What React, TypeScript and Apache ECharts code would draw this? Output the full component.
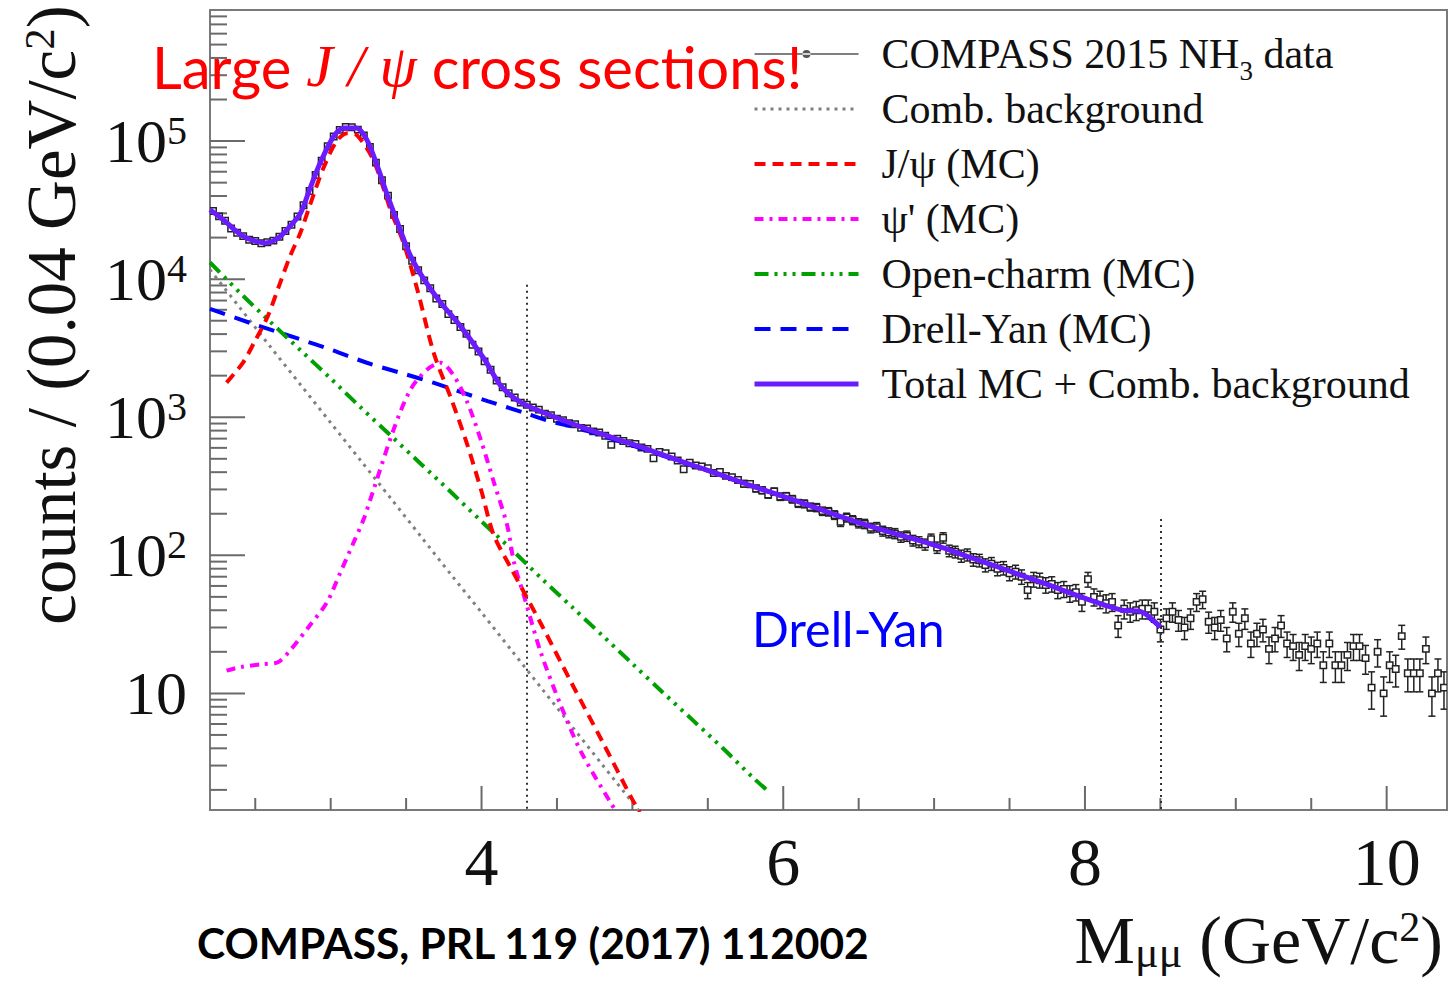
import { useEffect, useRef } from 'react';
import * as echarts from 'echarts';

const SERIF = '"Liberation Serif", "Times New Roman", serif';
const SANS = 'Lato, "Open Sans", sans-serif';

// Axis ranges: dimuon mass in GeV/c^2, counts per 0.04 GeV/c^2 (log)
const X_MIN = 2.2;
const X_MAX = 10.4;
const Y_MIN = 1.43;
const Y_MAX = 8.9e5;

// Tick positions
const X_TICK_LABELS = [4, 6, 8, 10];
const X_MINOR_TICKS = [2.5, 3, 3.5, 4.5, 5, 5.5, 6.5, 7, 7.5, 8.5, 9, 9.5];
const Y_TICK_EXPONENTS = [1, 2, 3, 4, 5];
const Y_MINOR_MANTISSAS = [2, 3, 4, 5, 6, 7, 8, 9];

// Measured spectrum: 0.04 GeV/c^2 bins, first bin starting at 2.20
const BIN_WIDTH = 0.04;
const FIRST_BIN_EDGE = 2.2;
const dataCounts = [
  // 2.22 - 4.30
  31200, 28500, 26500, 23300, 21700, 20500, 19300, 18900, 18200, 18500,
  19000, 20300, 22300, 24800, 28400, 34300, 43500, 56800, 72000, 91800,
  108000, 120500, 126800, 126000, 121000, 110000, 90500, 69800, 52000, 40300,
  29200, 23100, 17300, 13600, 11600, 9800, 8600, 7250, 6600, 5580,
  5060, 4500, 4020, 3350, 2990, 2540, 2210, 1840, 1650, 1490,
  1390, 1275, 1230,
  // 4.34 - 8.38
  1175, 1135, 1060, 1035, 975, 952, 905, 890, 838, 830,
  790, 775, 735, 632, 700, 672, 648, 640, 603, 590,
  505, 560, 548, 520, 486, 420, 468, 447, 440, 428,
  395, 402, 376, 368, 352, 330, 328, 305, 296, 276,
  290, 266, 268, 255, 238, 236, 224, 222, 209, 207,
  196, 175, 188, 180, 171, 169, 158, 160, 150, 146,
  144, 136, 138, 128, 125, 120, 131, 114, 134, 108,
  106, 99, 101, 93, 92, 85, 87, 80, 81, 74,
  76, 70, 56, 67, 66, 61, 62, 56, 57, 53,
  54, 46, 67, 50, 48, 45, 46, 31, 41, 39,
  40, 41,
  // 8.42 - 10.38
  41, 39, 29, 35, 39, 34, 30, 35, 46, 48,
  33, 30, 34, 25, 39, 27, 35, 23, 27, 29,
  21, 25, 31, 23, 22, 19, 22, 21, 23, 16,
  23, 16, 16, 19, 22, 22, 18, 11, 20, 10,
  16, 15, 26, 14, 14, 14, 21, 10, 14, 11,
];

// Monte Carlo components and fitted background: [mass, counts]
const combBackground: [number, number][] = [
  [2.2, 11700], [2.4, 6170], [2.6, 3240], [2.8, 1720], [3.0, 912], [3.2, 484],
  [3.4, 257], [3.6, 136], [3.8, 72], [4.0, 38.5], [4.2, 20.4], [4.4, 10.8],
  [4.6, 5.75], [4.8, 3.05], [5.0, 1.62], [5.1, 1.17],
];
const jpsiMC: [number, number][] = [
  [2.31, 1780], [2.42, 2500], [2.5, 3600], [2.58, 5300], [2.665, 9400], [2.73, 14600],
  [2.8, 21800], [2.865, 35000], [2.95, 63000], [3.04, 100000], [3.11, 114000],
  [3.175, 110000], [3.285, 72000], [3.4, 31000], [3.485, 18000], [3.573, 8500],
  [3.684, 2900], [3.8, 1350], [3.9, 660], [4.0, 290], [4.08, 141], [4.2, 79],
  [4.4, 31], [4.6, 11.7], [4.8, 4.5], [5.0, 1.7], [5.05, 1.38],
];
const psiPrimeMC: [number, number][] = [
  [2.31, 14.6], [2.4, 15.5], [2.55, 16.3], [2.65, 16.8], [2.73, 20.4], [2.86, 30.9],
  [2.975, 45.6], [3.064, 75], [3.152, 124], [3.219, 183], [3.285, 301], [3.418, 818],
  [3.529, 1585], [3.64, 2220], [3.728, 2480], [3.817, 1990], [3.906, 1280],
  [3.994, 692], [4.082, 337], [4.171, 163], [4.215, 89], [4.281, 51], [4.392, 19.9],
  [4.525, 8.2], [4.658, 3.8], [4.858, 1.6], [4.92, 1.26],
];
const openCharmMC: [number, number][] = [
  [2.2, 13200], [2.4, 7940], [2.6, 4900], [2.8, 3055], [3.0, 1905], [3.2, 1175],
  [3.4, 733], [3.6, 457], [3.8, 285], [4.0, 176], [4.2, 110], [4.4, 67.6],
  [4.6, 42.2], [4.8, 26.3], [5.0, 16.4], [5.2, 10.2], [5.4, 6.4], [5.6, 4.0],
  [5.8, 2.45], [5.89, 2.0],
];
const drellYanMC: [number, number][] = [
  [2.2, 6100], [2.5, 4680], [2.8, 3660], [3.0, 3090], [3.24, 2480], [3.5, 2040],
  [3.68, 1780], [4.04, 1310], [4.28, 1080], [4.44, 944], [4.66, 822], [4.9, 676],
  [5.1, 575], [5.3, 484], [5.54, 395], [5.76, 326], [5.99, 268], [6.2, 223],
  [6.45, 179], [6.7, 148], [7.03, 116], [7.2, 100], [7.4, 84], [7.74, 62],
  [8.02, 48], [8.25, 40], [8.36, 39], [8.5, 30],
];
const totalMC: [number, number][] = [
  [2.2, 31800], [2.3, 26300], [2.36, 22900], [2.44, 19900], [2.52, 18600], [2.57, 18300],
  [2.62, 19000], [2.67, 20600], [2.73, 24100], [2.8, 30100], [2.86, 44500], [2.93, 69300],
  [3.02, 107900], [3.09, 124200], [3.17, 124200], [3.24, 102100], [3.31, 65500],
  [3.37, 42100], [3.46, 22900], [3.53, 14700], [3.62, 9930], [3.73, 6750], [3.86, 4570],
  [4.02, 2620], [4.13, 1680], [4.26, 1280], [4.46, 1030], [4.66, 851], [4.9, 692],
  [5.1, 586], [5.3, 490], [5.54, 398], [5.76, 327], [5.99, 269], [6.2, 224], [6.45, 180],
  [6.7, 148], [7.03, 116], [7.2, 100], [7.4, 84], [7.74, 62], [8.02, 48], [8.25, 40],
  [8.36, 39.4], [8.5, 30.2],
];

// Mass-range boundaries (dotted verticals): mass and upper end in counts
const cutMasses = [4.3, 8.5];
const cutTops = [9100, 183];

const DATA_NAME = 'COMPASS 2015 NH3 data';
const BKG_NAME = 'Comb. background';
const JPSI_NAME = 'J/ψ (MC)';
const PSIP_NAME = "ψ' (MC)";
const OC_NAME = 'Open-charm (MC)';
const DY_NAME = 'Drell-Yan (MC)';
const TOTAL_NAME = 'Total MC + Comb. background';

function curve(name: string, data: [number, number][], color: string, width: number, dash: any, z: number) {
  return {
    name,
    type: 'line',
    data,
    z,
    symbol: 'none',
    showSymbol: false,
    smooth: 0.3,
    clip: true,
    silent: true,
    lineStyle: { color, width, type: dash, cap: 'butt' },
    itemStyle: { color },
  };
}

export default function App() {
  const ref = useRef<HTMLDivElement>(null);

  useEffect(() => {
    if (!ref.current) return;
    const chart = echarts.init(ref.current, undefined, { renderer: 'svg' });

    // tick marks drawn inside the frame: [axis (0 = x, 1 = y), value, major?]
    const tickItems: number[][] = [];
    X_TICK_LABELS.forEach((v) => tickItems.push([0, v, 1]));
    X_MINOR_TICKS.forEach((v) => tickItems.push([0, v, 0]));
    Y_TICK_EXPONENTS.forEach((e) => tickItems.push([1, Math.pow(10, e), 1]));
    for (let e = 0; e <= 5; e++) {
      Y_MINOR_MANTISSAS.forEach((m) => {
        const v = m * Math.pow(10, e);
        if (v >= Y_MIN && v <= Y_MAX) tickItems.push([1, v, 0]);
      });
    }

    const dataPoints = dataCounts.map((n, i) => [FIRST_BIN_EDGE + (i + 0.5) * BIN_WIDTH, n]);

    const option: any = {
      animation: false,
      backgroundColor: '#ffffff',
      textStyle: { fontFamily: SERIF },
      grid: {
        left: 210, right: 4, top: 10, bottom: 171,
        show: true, borderColor: '#7a7a7a', borderWidth: 2, backgroundColor: 'transparent',
      },
      xAxis: {
        type: 'value',
        min: X_MIN,
        max: X_MAX,
        axisLine: { show: true, lineStyle: { color: '#7a7a7a', width: 2 } },
        axisTick: { show: false },
        splitLine: { show: false },
        axisLabel: {
          margin: 18,
          fontFamily: SERIF,
          fontSize: 68,
          color: '#111',
          showMinLabel: false,
          showMaxLabel: false,
          formatter: (v: number) => (X_TICK_LABELS.indexOf(v) >= 0 ? String(v) : ''),
        },
      },
      yAxis: {
        type: 'log',
        logBase: 10,
        min: Y_MIN,
        max: Y_MAX,
        axisLine: { show: true, lineStyle: { color: '#7a7a7a', width: 2 } },
        axisTick: { show: false },
        splitLine: { show: false },
        minorTick: { show: false },
        axisLabel: {
          margin: 23,
          formatter: (v: number) => {
            const e = Math.log10(v);
            const n = Math.round(e);
            if (Math.abs(e - n) > 1e-6 || Y_TICK_EXPONENTS.indexOf(n) < 0) return '';
            return n === 1 ? '{b|10}' : `{b|10}{s|${n}}`;
          },
          rich: {
            b: { fontFamily: SERIF, fontSize: 62, color: '#111', lineHeight: 62 },
            s: { fontFamily: SERIF, fontSize: 40, color: '#111', lineHeight: 40, verticalAlign: 'top' },
          },
        },
      },
      legend: {
        orient: 'vertical',
        left: 752,
        top: 33,
        padding: 0,
        itemGap: 4,
        itemWidth: 104,
        itemHeight: 20,
        selectedMode: false,
        itemStyle: { color: 'rgba(0,0,0,0)', borderColor: 'rgba(0,0,0,0)', borderWidth: 0 },
        lineStyle: { width: 'inherit' },
        textStyle: {
          fontFamily: SERIF,
          fontSize: 42,
          color: '#111',
          padding: [0, 0, 0, 18],
          rich: {
            t: { fontFamily: SERIF, fontSize: 42, color: '#111', lineHeight: 44 },
            sub: {
              fontFamily: SERIF, fontSize: 27, color: '#111',
              verticalAlign: 'bottom', padding: [0, 0, -8, 0],
            },
          },
        },
        // every row carries a subscript slot so all rows share one height
        formatter: (name: string) =>
          name === DATA_NAME ? '{t|COMPASS 2015 NH}{sub|3}{t| data}' : `{t|${name}}{sub| }`,
        data: [
          {
            name: DATA_NAME,
            icon: 'path://M0,0 M104,20 M0,9.2 L104,9.2 L104,10.8 L0,10.8 Z M48,10 A4,4 0 1 0 56,10 A4,4 0 1 0 48,10 Z',
            itemStyle: { color: '#555', borderWidth: 0 },
          },
          BKG_NAME, JPSI_NAME, PSIP_NAME, OC_NAME, DY_NAME, TOTAL_NAME,
        ],
      },
      series: [
        {
          name: 'ticks',
          type: 'custom',
          silent: true,
          z: 1,
          data: tickItems,
          renderItem: (_p: any, api: any) => {
            const axis = api.value(0);
            const v = api.value(1);
            const major = api.value(2) === 1;
            const style = { stroke: '#6a6a6a', lineWidth: 2 };
            if (axis === 0) {
              const p = api.coord([v, Y_MIN]);
              const len = major ? 24 : 12;
              return { type: 'line', shape: { x1: p[0], y1: p[1], x2: p[0], y2: p[1] - len }, style };
            }
            const p = api.coord([X_MIN, v]);
            const len = major ? 35 : 17;
            return { type: 'line', shape: { x1: p[0], y1: p[1], x2: p[0] + len, y2: p[1] }, style };
          },
        },
        {
          name: 'cuts',
          type: 'line',
          data: [],
          silent: true,
          markLine: {
            silent: true,
            symbol: ['none', 'none'],
            label: { show: false },
            lineStyle: { color: '#333', width: 2, type: [2, 4] },
            data: cutMasses.map((m, i) => [{ coord: [m, cutTops[i]] }, { coord: [m, Y_MIN] }]),
          },
        },
        {
          name: DATA_NAME,
          type: 'custom',
          silent: true,
          clip: true,
          z: 4,
          itemStyle: { color: '#555' },
          encode: { x: 0, y: 1 },
          data: dataPoints,
          renderItem: (_p: any, api: any) => {
            const m = api.value(0);
            const n = api.value(1);
            const err = Math.sqrt(n);
            const c = api.coord([m, n]);
            const top = api.coord([m, n + err])[1];
            const bot = api.coord([m, Math.max(n - err, Y_MIN)])[1];
            const h = 3.2;
            const cap = 3.5;
            const st = { stroke: '#222', lineWidth: 1.5 };
            const children: any[] = [];
            if (top < c[1] - h) {
              children.push({ type: 'line', shape: { x1: c[0], y1: c[1] - h, x2: c[0], y2: top }, style: st });
              children.push({ type: 'line', shape: { x1: c[0] - cap, y1: top, x2: c[0] + cap, y2: top }, style: st });
            }
            if (bot > c[1] + h) {
              children.push({ type: 'line', shape: { x1: c[0], y1: c[1] + h, x2: c[0], y2: bot }, style: st });
              children.push({ type: 'line', shape: { x1: c[0] - cap, y1: bot, x2: c[0] + cap, y2: bot }, style: st });
            }
            children.push({
              type: 'rect',
              shape: { x: c[0] - h, y: c[1] - h, width: 2 * h, height: 2 * h },
              style: { stroke: '#222', lineWidth: 1.5, fill: '#fff' },
            });
            return { type: 'group', children };
          },
        },
        curve(BKG_NAME, combBackground, '#808080', 3, [3, 5], 5),
        curve(DY_NAME, drellYanMC, '#0000ff', 4, [16, 10], 6),
        curve(OC_NAME, openCharmMC, '#00a000', 4, [14, 6, 3, 6, 3, 6, 3, 6], 6),
        curve(PSIP_NAME, psiPrimeMC, '#ff00ff', 4, [9, 6, 3, 6], 7),
        curve(JPSI_NAME, jpsiMC, '#ff0000', 4, [11, 7], 8),
        curve(TOTAL_NAME, totalMC, '#6a1cff', 5, 'solid', 10),
      ],
      graphic: [
        {
          type: 'text',
          z: 100,
          x: 52,
          y: 315,
          rotation: Math.PI / 2,
          style: {
            text: '{a|counts / (0.04 GeV/c}{s|2}{a|)}',
            align: 'center',
            verticalAlign: 'middle',
            rich: {
              a: { fontFamily: SERIF, fontSize: 69, fill: '#111' },
              s: { fontFamily: SERIF, fontSize: 43, fill: '#111', verticalAlign: 'top' },
            },
          },
        },
        {
          type: 'text',
          z: 100,
          x: 1443,
          y: 940,
          style: {
            text: '{a|M}{m|μμ}{a| (GeV/c}{s|2}{a|)}',
            align: 'right',
            verticalAlign: 'middle',
            rich: {
              a: { fontFamily: SERIF, fontSize: 68, fill: '#111', lineHeight: 68 },
              m: { fontFamily: SERIF, fontSize: 44, fill: '#111', lineHeight: 30, verticalAlign: 'bottom' },
              s: { fontFamily: SERIF, fontSize: 42, fill: '#111', lineHeight: 42, verticalAlign: 'top' },
            },
          },
        },
        {
          type: 'text',
          z: 100,
          x: 152,
          y: 66,
          style: {
            text: '{a|Large }{i|J / ψ}{a| cross sections!}',
            verticalAlign: 'middle',
            rich: {
              a: { fontFamily: SANS, fontSize: 58, fill: '#ff0000' },
              i: { fontFamily: SERIF, fontStyle: 'italic', fontSize: 60, fill: '#ff0000' },
            },
          },
        },
        {
          type: 'text',
          z: 100,
          x: 752,
          y: 628,
          style: { text: 'Drell-Yan', fontFamily: SANS, fontSize: 48.5, fill: '#0000ff', verticalAlign: 'middle' },
        },
        {
          type: 'text',
          z: 100,
          x: 197,
          y: 942,
          style: {
            text: 'COMPASS, PRL 119 (2017) 112002',
            fontFamily: SANS,
            fontWeight: 'bold',
            fontSize: 42.5,
            fill: '#000',
            verticalAlign: 'middle',
          },
        },
      ],
    };

    chart.setOption(option);
    return () => chart.dispose();
  }, []);

  return (
    <div
      ref={ref}
      style={{ position: 'fixed', left: 0, top: 0, width: 1451, height: 981, background: '#fff' }}
    />
  );
}
